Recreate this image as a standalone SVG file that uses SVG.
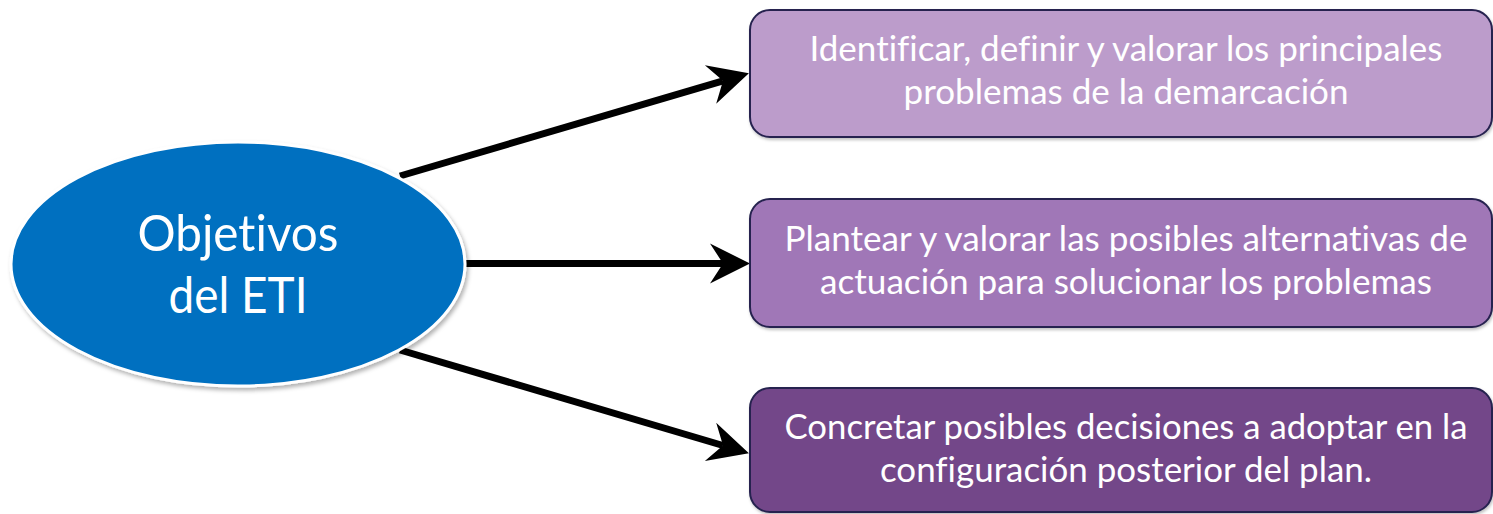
<svg xmlns="http://www.w3.org/2000/svg" width="1493" height="514" viewBox="0 0 1493 514">
  <style>
    .box { stroke: #26234f; stroke-width: 2; }
    .btxt { font-family: Lato, "Open Sans", "Liberation Sans", sans-serif; font-size: 34px; fill: #ffffff; text-anchor: middle; font-variant-ligatures: none; font-feature-settings: "liga" 0, "clig" 0; }
    .etxt { font-family: Lato, "Open Sans", "Liberation Sans", sans-serif; font-size: 50px; fill: #ffffff; text-anchor: middle; font-variant-ligatures: none; font-feature-settings: "liga" 0, "clig" 0; }
    .conn { stroke: #000000; stroke-width: 7; fill: none; marker-end: url(#arrow); }
  </style>
  <defs>
    <marker id="arrow" markerUnits="userSpaceOnUse" viewBox="-14 -22 46 44" refX="0" refY="0" markerWidth="46" markerHeight="44" orient="auto">
      <path d="M27,0 L-13,-20 L0,0 L-13,20 Z" fill="#000000"/>
    </marker>
    <filter id="shadow" x="-10%" y="-10%" width="120%" height="125%">
      <feDropShadow dx="2" dy="3" stdDeviation="2" flood-color="#000000" flood-opacity="0.3"/>
    </filter>
    <filter id="bshadow" x="-5%" y="-10%" width="110%" height="125%">
      <feDropShadow dx="1" dy="2" stdDeviation="1.5" flood-color="#000000" flood-opacity="0.25"/>
    </filter>
  </defs>

  <g id="connectors">
    <line class="conn" x1="400" y1="176" x2="723" y2="80.8"/>
    <line class="conn" x1="465" y1="263.5" x2="723" y2="263.5"/>
    <line class="conn" x1="400" y1="350" x2="723" y2="445.5"/>
  </g>

  <g id="node-objetivos">
    <ellipse cx="238" cy="264" rx="227" ry="122" fill="#0070c0" stroke="#ffffff" stroke-width="3" filter="url(#shadow)"/>
    <text class="etxt" x="238" y="251" textLength="201" lengthAdjust="spacingAndGlyphs">Objetivos</text>
    <text class="etxt" x="238" y="313" textLength="139" lengthAdjust="spacingAndGlyphs">del ETI</text>
  </g>

  <g id="node-identificar">
    <rect class="box" x="750" y="10" width="742" height="127" rx="20" ry="20" fill="#bc9ccb" filter="url(#bshadow)"/>
    <text class="btxt" x="1126" y="61" textLength="633" lengthAdjust="spacingAndGlyphs">Identificar, definir y valorar los principales</text>
    <text class="btxt" x="1126" y="104" textLength="445" lengthAdjust="spacingAndGlyphs">problemas de la demarcación</text>
  </g>

  <g id="node-plantear">
    <rect class="box" x="750" y="199" width="742" height="128" rx="20" ry="20" fill="#a077b7" filter="url(#bshadow)"/>
    <text class="btxt" x="1126" y="251" textLength="683" lengthAdjust="spacingAndGlyphs">Plantear y valorar las posibles alternativas de</text>
    <text class="btxt" x="1126" y="294" textLength="612" lengthAdjust="spacingAndGlyphs">actuación para solucionar los problemas</text>
  </g>

  <g id="node-concretar">
    <rect class="box" x="750" y="388" width="742" height="124" rx="20" ry="20" fill="#734689" filter="url(#bshadow)"/>
    <text class="btxt" x="1126" y="439" textLength="683" lengthAdjust="spacingAndGlyphs">Concretar posibles decisiones a adoptar en la</text>
    <text class="btxt" x="1126" y="482" textLength="492" lengthAdjust="spacingAndGlyphs">configuración posterior del plan.</text>
  </g>
</svg>
